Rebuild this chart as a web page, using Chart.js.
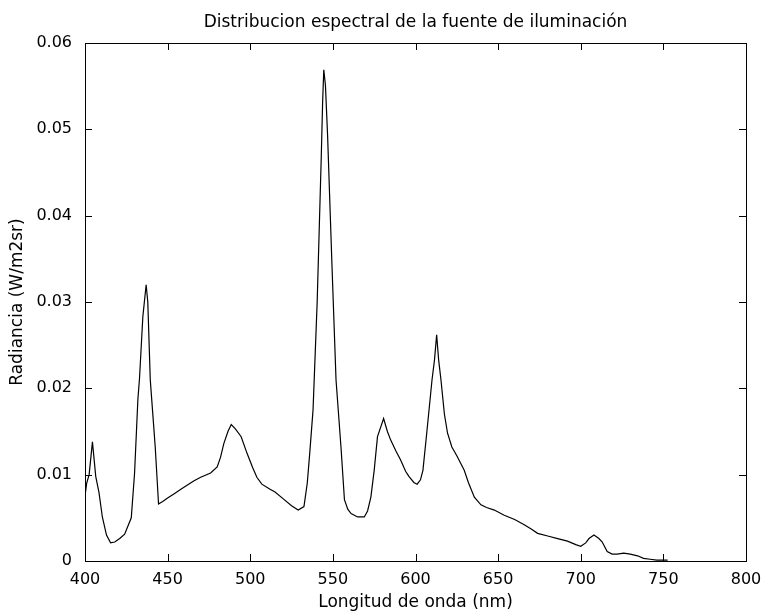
<!DOCTYPE html>
<html>
<head>
<meta charset="utf-8">
<script src="https://cdn.jsdelivr.net/npm/chart.js@4/dist/chart.umd.min.js"></script>
<style>
  html, body { margin: 0; padding: 0; background: #fff; }
  #wrap { width: 763px; height: 616px; }
</style>
</head>
<body>
<div id="wrap"><canvas id="spectrum"></canvas></div>
<script>
// wavelength samples (nm)
const wavelengths = [
  400, 401, 402.5, 404.5, 406.5, 408.5, 410.5, 413, 415.5, 418, 421, 424, 428, 430,
  432, 433, 435, 437, 438, 439.5, 441, 442.5, 444.5, 447, 450, 454, 458, 462, 466,
  470, 476, 480, 482, 484, 486.5, 488.5, 491, 494.5, 498, 501.5, 504, 507, 512,
  515, 520, 525, 529, 532.5, 534.5, 536, 538, 540.5, 543, 543.8, 544.5, 545.5,
  546.8, 549.5, 551.9, 554.9, 557, 559, 561, 565, 569, 571, 573, 575, 577, 580.7,
  583, 585, 588, 591, 594, 596, 599, 601, 603, 604.5, 607, 610, 611.5, 612.8, 614,
  615.4, 617.5, 619.4, 622, 625, 629.5, 632, 635.6, 639.6, 643, 647.7, 653.7, 660,
  665.8, 670, 673.9, 680, 686, 692, 697, 700, 703, 705, 708, 711, 713, 716, 719,
  722, 726, 730, 734.4, 738, 742, 746, 752.6
];

// radiance (W/m2sr) at each wavelength
const radiance = [
  0.0075, 0.0090, 0.0100, 0.0138, 0.0098, 0.0079, 0.0051, 0.0030, 0.0021, 0.0022,
  0.0026, 0.0031, 0.0050, 0.0102, 0.0187, 0.0212, 0.0283, 0.0320, 0.0300, 0.0210,
  0.0171, 0.0132, 0.0066, 0.0069, 0.0073, 0.0078, 0.0083, 0.0088, 0.0093, 0.0097,
  0.0102, 0.0109, 0.0120, 0.0136, 0.0150, 0.0158, 0.0153, 0.0144, 0.0125, 0.0108,
  0.0097, 0.0089, 0.0083, 0.0080, 0.0072, 0.0064, 0.0059, 0.0063, 0.0090, 0.0125,
  0.0175, 0.0300, 0.0470, 0.0532, 0.0569, 0.0551, 0.0493, 0.0340, 0.0210, 0.0132,
  0.0071, 0.0060, 0.0055, 0.0051, 0.0051, 0.0058, 0.0074, 0.0105, 0.0144, 0.0165,
  0.0150, 0.0140, 0.0128, 0.0117, 0.0104, 0.0098, 0.0091, 0.0089, 0.0094, 0.0105,
  0.0152, 0.0210, 0.0233, 0.0262, 0.0233, 0.0210, 0.0170, 0.0148, 0.0132, 0.0122,
  0.0105, 0.0091, 0.0074, 0.0065, 0.0062, 0.0059, 0.0053, 0.0048, 0.0042, 0.0037,
  0.0032, 0.0029, 0.0026, 0.0023, 0.0019, 0.0017, 0.0021, 0.0026, 0.0030, 0.0026,
  0.0022, 0.0011, 0.0008, 0.0008, 0.0009, 0.0008, 0.0006, 0.0003, 0.0002, 0.0001,
  0.0001
];

const xTickStep = 50;   // 400 ... 800
const yTickStep = 0.01; // 0 ... 0.06

const points = wavelengths.map((w, i) => ({ x: w, y: radiance[i] }));

// matlab style box with ticks pointing inside, on all four sides
const innerTicks = {
  id: 'innerTicks',
  afterDraw(chart) {
    const { ctx, chartArea: a, scales: { x, y } } = chart;
    const len = 7;
    ctx.save();
    ctx.strokeStyle = '#000';
    ctx.lineWidth = 1;
    ctx.strokeRect(Math.round(a.left) + 0.5, Math.round(a.top) + 0.5,
      Math.round(a.right - a.left), Math.round(a.bottom - a.top));
    ctx.beginPath();
    x.ticks.forEach(t => {
      const px = Math.round(x.getPixelForValue(t.value)) + 0.5;
      ctx.moveTo(px, a.bottom); ctx.lineTo(px, a.bottom - len);
      ctx.moveTo(px, a.top); ctx.lineTo(px, a.top + len);
    });
    y.ticks.forEach(t => {
      const py = Math.round(y.getPixelForValue(t.value)) + 0.5;
      ctx.moveTo(a.left, py); ctx.lineTo(a.left + len, py);
      ctx.moveTo(a.right, py); ctx.lineTo(a.right - len, py);
    });
    ctx.stroke();
    ctx.restore();
  }
};

const font = 'DejaVu Sans';

new Chart(document.querySelector('#spectrum'), {
  type: 'line',
  data: {
    datasets: [{
      data: points,
      borderColor: '#000',
      borderWidth: 1.2,
      pointRadius: 0,
      tension: 0,
      fill: false
    }]
  },
  options: {
    responsive: true,
    maintainAspectRatio: false,
    animation: false,
    devicePixelRatio: 1,
    layout: { padding: { left: 0, right: 17, top: 0, bottom: 0 } },
    plugins: {
      legend: { display: false },
      tooltip: { enabled: false },
      title: {
        display: true,
        fullSize: false,
        text: 'Distribucion espectral de la fuente de iluminación',
        color: '#000',
        font: { family: font, size: 17, weight: 'normal' },
        padding: { top: 12, bottom: 10.6 }
      }
    },
    scales: {
      x: {
        type: 'linear',
        min: 400,
        max: 800,
        grid: { display: false, drawTicks: false },
        border: { display: false },
        ticks: {
          stepSize: xTickStep,
          color: '#000',
          padding: 9,
          maxRotation: 0,
          font: { family: font, size: 16 }
        },
        title: {
          display: true,
          text: 'Longitud de onda (nm)',
          color: '#000',
          font: { family: font, size: 17 },
          padding: { top: 0, bottom: 2.8 }
        },
        afterFit(s) {
          s.height = 55;
          s.paddingLeft = 0;
          s.paddingRight = 0;
        }
      },
      y: {
        min: 0,
        max: 0.06,
        grid: { display: false, drawTicks: false },
        border: { display: false },
        ticks: {
          stepSize: yTickStep,
          color: '#000',
          padding: 13,
          font: { family: font, size: 16 },
          callback: v => (v === 0 ? '0' : v.toFixed(2))
        },
        title: {
          display: true,
          text: 'Radiancia (W/m2sr)',
          color: '#000',
          font: { family: font, size: 17 },
          padding: { top: 7, bottom: 0 }
        },
        afterFit(s) {
          s.width = 85;
          s.paddingTop = 0;
          s.paddingBottom = 0;
        }
      }
    }
  },
  plugins: [innerTicks]
});
</script>
</body>
</html>
